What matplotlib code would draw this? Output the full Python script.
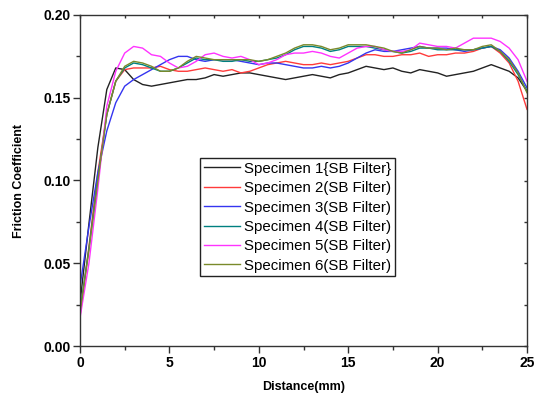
"""
Friction coefficient vs. sliding distance for six SB filter specimens.
"""

import matplotlib
matplotlib.use('Agg')
import matplotlib.pyplot as plt
from matplotlib.ticker import MultipleLocator, FormatStrFormatter

DISTANCE = [i * 0.5 for i in range(51)]

SPEC1 = [0.026, 0.074, 0.120, 0.155, 0.168, 0.167, 0.161, 0.158, 0.157, 0.158,
         0.159, 0.160, 0.161, 0.161, 0.162, 0.164, 0.163, 0.164, 0.165, 0.165,
         0.164, 0.163, 0.162, 0.161, 0.162, 0.163, 0.164, 0.163, 0.162, 0.164,
         0.165, 0.167, 0.169, 0.168, 0.167, 0.168, 0.166, 0.165, 0.167, 0.166,
         0.165, 0.163, 0.164, 0.165, 0.166, 0.168, 0.170, 0.168, 0.166, 0.162,
         0.154]
SPEC2 = [0.018, 0.060, 0.105, 0.140, 0.160, 0.167, 0.168, 0.168, 0.168, 0.169,
         0.167, 0.166, 0.166, 0.167, 0.168, 0.167, 0.166, 0.167, 0.165, 0.166,
         0.168, 0.170, 0.171, 0.172, 0.171, 0.170, 0.170, 0.171, 0.170, 0.171,
         0.172, 0.174, 0.176, 0.176, 0.175, 0.175, 0.176, 0.176, 0.177, 0.175,
         0.176, 0.176, 0.177, 0.177, 0.178, 0.180, 0.181, 0.177, 0.171, 0.160,
         0.143]
SPEC3 = [0.036, 0.072, 0.105, 0.130, 0.147, 0.157, 0.161, 0.164, 0.167, 0.170,
         0.173, 0.175, 0.175, 0.173, 0.172, 0.173, 0.173, 0.173, 0.172, 0.171,
         0.170, 0.171, 0.171, 0.170, 0.169, 0.168, 0.168, 0.169, 0.168, 0.169,
         0.171, 0.174, 0.177, 0.179, 0.178, 0.178, 0.179, 0.180, 0.181, 0.180,
         0.180, 0.180, 0.179, 0.178, 0.179, 0.180, 0.181, 0.179, 0.174, 0.166,
         0.156]
SPEC4 = [0.021, 0.059, 0.101, 0.140, 0.160, 0.168, 0.171, 0.170, 0.168, 0.166,
         0.166, 0.168, 0.171, 0.174, 0.173, 0.173, 0.172, 0.172, 0.173, 0.172,
         0.172, 0.173, 0.174, 0.176, 0.179, 0.181, 0.181, 0.180, 0.178, 0.179,
         0.181, 0.181, 0.181, 0.180, 0.179, 0.178, 0.177, 0.178, 0.180, 0.180,
         0.179, 0.179, 0.179, 0.179, 0.179, 0.180, 0.181, 0.178, 0.172, 0.164,
         0.154]
SPEC5 = [0.017, 0.050, 0.095, 0.145, 0.166, 0.177, 0.181, 0.180, 0.176, 0.175,
         0.171, 0.168, 0.169, 0.172, 0.176, 0.177, 0.175, 0.174, 0.175, 0.173,
         0.170, 0.171, 0.173, 0.176, 0.177, 0.177, 0.178, 0.177, 0.175, 0.174,
         0.177, 0.180, 0.181, 0.181, 0.179, 0.178, 0.178, 0.179, 0.183, 0.182,
         0.181, 0.181, 0.180, 0.183, 0.186, 0.186, 0.186, 0.184, 0.180, 0.173,
         0.160]
SPEC6 = [0.020, 0.058, 0.100, 0.140, 0.160, 0.169, 0.172, 0.171, 0.169, 0.166,
         0.166, 0.168, 0.172, 0.175, 0.174, 0.173, 0.173, 0.173, 0.173, 0.173,
         0.172, 0.173, 0.175, 0.177, 0.180, 0.182, 0.182, 0.181, 0.179, 0.180,
         0.182, 0.182, 0.182, 0.181, 0.180, 0.178, 0.177, 0.179, 0.181, 0.180,
         0.180, 0.179, 0.180, 0.179, 0.179, 0.181, 0.182, 0.178, 0.173, 0.165,
         0.153]

SERIES = [SPEC1, SPEC2, SPEC3, SPEC4, SPEC5, SPEC6]
LABELS = ['Specimen 1{SB Filter}', 'Specimen 2(SB Filter)',
          'Specimen 3(SB Filter)', 'Specimen 4(SB Filter)',
          'Specimen 5(SB Filter)', 'Specimen 6(SB Filter)']
COLORS = ['#222222', '#ff3b3b', '#3535f0', '#008080', '#ff33ff', '#7a8a2a']


def main():
    plt.rcParams['font.family'] = ['Liberation Sans', 'DejaVu Sans']
    fig = plt.figure(figsize=(5.38, 4.01), dpi=100)
    ax = fig.add_axes([80 / 538, 1 - 346 / 401, 447 / 538, 331 / 401])

    for y, label, color in zip(SERIES, LABELS, COLORS):
        ax.plot(DISTANCE, y, color=color, lw=1.0, label=label)

    ax.set_xlim(0, 25)
    ax.set_ylim(0, 0.20)
    ax.xaxis.set_major_locator(MultipleLocator(5))
    ax.xaxis.set_minor_locator(MultipleLocator(2.5))
    ax.yaxis.set_major_locator(MultipleLocator(0.05))
    ax.yaxis.set_minor_locator(MultipleLocator(0.025))
    ax.yaxis.set_major_formatter(FormatStrFormatter('%.2f'))

    for spine in ax.spines.values():
        spine.set_color('#333333')
        spine.set_linewidth(1.0)
    ax.tick_params(which='major', direction='out', length=5, width=1,
                   color='#333333', labelsize=10, pad=2)
    ax.tick_params(which='minor', direction='out', length=3, width=1,
                   color='#333333')
    for lab in ax.get_xticklabels() + ax.get_yticklabels():
        lab.set_fontweight('bold')

    # short inward ticks on the top and right edges
    sec_x = ax.secondary_xaxis('top')
    sec_x.xaxis.set_major_locator(MultipleLocator(2.5))
    sec_x.tick_params(direction='in', length=2.5, width=1, color='#333333',
                      labeltop=False)
    sec_x.spines['top'].set_visible(False)
    sec_y = ax.secondary_yaxis('right')
    sec_y.yaxis.set_major_locator(MultipleLocator(0.025))
    sec_y.tick_params(direction='in', length=2.5, width=1, color='#333333',
                      labelright=False)
    sec_y.spines['right'].set_visible(False)

    ax.set_xlabel('Distance(mm)', fontsize=9, fontweight='bold', labelpad=8)
    ax.set_ylabel('Friction Coefficient', fontsize=9, fontweight='bold',
                  labelpad=13)

    leg = ax.legend(loc='upper left', bbox_to_anchor=(0.268, 0.568),
                    fontsize=10.8, frameon=True, fancybox=False,
                    edgecolor='#222222', framealpha=1, borderpad=0.25,
                    labelspacing=0.36, handlelength=2.4, handletextpad=0.3,
                    borderaxespad=0)
    leg.get_frame().set_linewidth(1.0)

    fig.savefig('out.png', dpi=100)
    plt.close()


if __name__ == '__main__':
    main()
